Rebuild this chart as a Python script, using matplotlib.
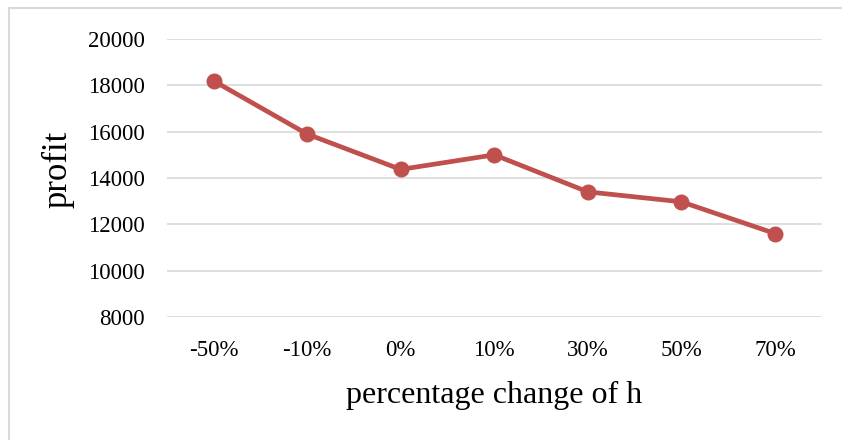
import matplotlib.pyplot as plt
from matplotlib.patches import Rectangle

plt.rcParams['font.family'] = ['Liberation Serif', 'DejaVu Serif']

# percentage change of h vs profit
changes = ['-50%', '-10%', '0%', '10%', '30%', '50%', '70%']
profit = [18200, 15900, 14370, 15000, 13400, 12970, 11600]
yticks = [8000, 10000, 12000, 14000, 16000, 18000, 20000]

fig = plt.figure(figsize=(8.42, 4.40), dpi=100)
ax = fig.add_axes([0.198, 0.280, 0.778, 0.631])

# light frame around the chart area
fig.patches.append(Rectangle((9 / 842, -0.05), 1.2, 1 - 8 / 440 + 0.05,
                             transform=fig.transFigure, fill=False,
                             edgecolor='#d9d9d9', lw=1.5))

x = range(len(changes))
ax.plot(x, profit, color='#c0504d', lw=3.4, marker='o', ms=10.5, zorder=3)

ax.set_xlim(-0.5, len(changes) - 0.5)
ax.set_ylim(8000, 20000)
ax.set_yticks(yticks)
ax.set_xticks(list(x))
ax.set_xticklabels(changes)
ax.grid(axis='y', color='#d9d9d9', lw=1.2)
ax.set_axisbelow(True)
for s in ax.spines.values():
    s.set_visible(False)
ax.tick_params(axis='both', length=0, labelsize=16.5)
ax.tick_params(axis='y', pad=16)
ax.tick_params(axis='x', pad=17)

ax.set_xlabel('percentage change of h', fontsize=23, labelpad=14)
ax.set_ylabel('profit', fontsize=25)
ax.yaxis.set_label_coords(-0.141, 0.53)

fig.savefig('out.png', dpi=100)
